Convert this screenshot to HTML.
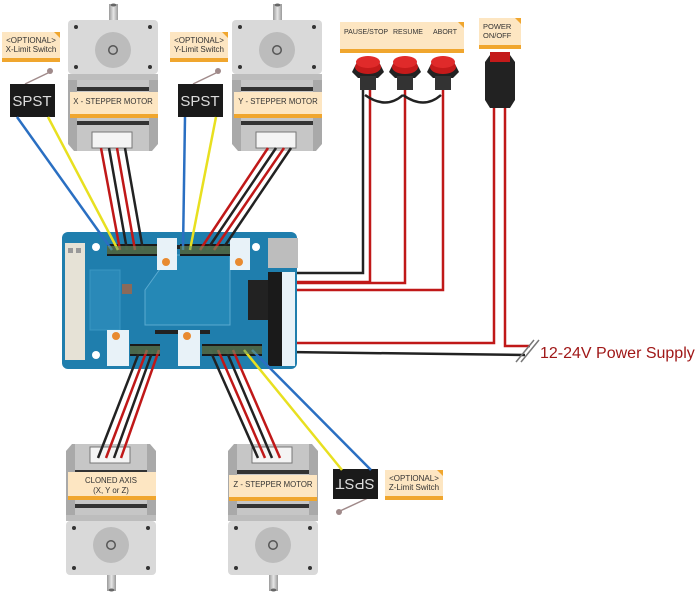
<!DOCTYPE html>
<html><head><meta charset="utf-8"><style>
html,body{margin:0;padding:0;background:#fff;}
svg{display:block;font-family:"Liberation Sans",sans-serif;}
</style></head><body>
<svg width="700" height="596" viewBox="0 0 700 596" xmlns="http://www.w3.org/2000/svg">
<defs>
<linearGradient id="sh" x1="0" x2="1"><stop offset="0" stop-color="#9a9a9a"/><stop offset="0.5" stop-color="#e6e6e6"/><stop offset="1" stop-color="#9a9a9a"/></linearGradient>
<g id="motor">
  <rect x="41" y="-16" width="9" height="44" fill="url(#sh)"/>
  <ellipse cx="45.5" cy="-15" rx="3" ry="1.5" fill="#666"/>
  <rect x="0" y="0" width="90" height="54" rx="4" fill="#d9d9d9"/>
  <circle cx="45" cy="30" r="18" fill="#bcbcbc"/>
  <circle cx="45" cy="30" r="5" fill="#555"/><circle cx="45" cy="30" r="3.5" fill="#bbb"/>
  <circle cx="8" cy="7" r="2" fill="#333"/><circle cx="82" cy="7" r="2" fill="#333"/>
  <circle cx="8" cy="47" r="2" fill="#333"/><circle cx="82" cy="47" r="2" fill="#333"/>
  <polygon points="0,54 90,54 90,124 84,131 6,131 0,124" fill="#a9a9a9"/>
  <rect x="9" y="54" width="72" height="77" fill="#c6c6c6"/>
  <rect x="0" y="54" width="90" height="6" fill="#bdbdbd"/>
  <rect x="9" y="67" width="72" height="4" fill="#333"/>
  <rect x="9" y="101" width="72" height="4" fill="#333"/>
  <rect x="24" y="112" width="40" height="16" fill="#f4f4f4" stroke="#777"/>
</g>
<g id="lbl"><rect x="0" y="0" width="58" height="30" fill="#fde6c2"/><rect x="0" y="26" width="58" height="4" fill="#f0a62e"/><polygon points="52,0 58,0 58,6" fill="#f0a62e"/></g>
</defs>

<use href="#motor" x="68" y="20"/>
<use href="#motor" x="232" y="20"/>
<use href="#motor" transform="translate(66,575) scale(1,-1)"/>
<use href="#motor" transform="translate(228,575) scale(1,-1)"/>

<g font-size="7.8" fill="#333" text-anchor="middle">
<rect x="70" y="92" width="88" height="26" fill="#fde6c2"/><rect x="70" y="114" width="88" height="4" fill="#f0a62e"/>
<text x="113" y="104">X - STEPPER MOTOR</text>
<rect x="234" y="92" width="88" height="26" fill="#fde6c2"/><rect x="234" y="114" width="88" height="4" fill="#f0a62e"/>
<text x="278" y="104">Y - STEPPER MOTOR</text>
<rect x="68" y="472" width="88" height="28" fill="#fde6c2"/><rect x="68" y="496" width="88" height="4" fill="#f0a62e"/>
<text x="111" y="483">CLONED AXIS</text><text x="111" y="493">(X, Y or Z)</text>
<rect x="229" y="475" width="88" height="26" fill="#fde6c2"/><rect x="229" y="497" width="88" height="4" fill="#f0a62e"/>
<text x="273" y="487">Z - STEPPER MOTOR</text>
</g>

<use href="#lbl" x="2" y="32"/><use href="#lbl" x="170" y="32"/><use href="#lbl" x="385" y="470"/>
<g font-size="8" fill="#333" text-anchor="middle">
<text x="31" y="43">&lt;OPTIONAL&gt;</text><text x="31" y="52">X-Limit Switch</text>
<text x="199" y="43">&lt;OPTIONAL&gt;</text><text x="199" y="52">Y-Limit Switch</text>
<text x="414" y="481">&lt;OPTIONAL&gt;</text><text x="414" y="490">Z-Limit Switch</text>
</g>

<line x1="25" y1="84" x2="50" y2="72" stroke="#a08a8a" stroke-width="1.5"/><circle cx="50" cy="71" r="3" fill="#a08a8a"/>
<rect x="10" y="84" width="45" height="33" fill="#1a1a1a"/><text x="32" y="106" font-size="15" fill="#ddd" text-anchor="middle">SPST</text>
<line x1="193" y1="84" x2="218" y2="72" stroke="#a08a8a" stroke-width="1.5"/><circle cx="218" cy="71" r="3" fill="#a08a8a"/>
<rect x="178" y="84" width="45" height="33" fill="#1a1a1a"/><text x="200" y="106" font-size="15" fill="#ddd" text-anchor="middle">SPST</text>
<line x1="368" y1="498" x2="340" y2="511" stroke="#a08a8a" stroke-width="1.5"/><circle cx="339" cy="512" r="3" fill="#a08a8a"/>
<rect x="333" y="469" width="45" height="30" fill="#1a1a1a"/><text x="355" y="484" font-size="15" fill="#ddd" text-anchor="middle" transform="rotate(180 355 484)" dy="5">SPST</text>

<rect x="340" y="22" width="124" height="31" fill="#fde6c2"/><rect x="340" y="49" width="124" height="4" fill="#f0a62e"/><polygon points="458,22 464,22 464,28" fill="#f0a62e"/>
<g font-size="7" fill="#333"><text x="344" y="34">PAUSE/STOP</text><text x="393" y="34">RESUME</text><text x="433" y="34">ABORT</text></g>
<rect x="479" y="18" width="42" height="31" fill="#fde6c2"/><rect x="479" y="45" width="42" height="4" fill="#f0a62e"/><polygon points="515,18 521,18 521,24" fill="#f0a62e"/>
<g font-size="7.5" fill="#333"><text x="483" y="29">POWER</text><text x="483" y="38">ON/OFF</text></g>

<g transform="translate(368,0)"><polygon points="-16,72 -10,60 10,60 16,72 10,78 -10,78" fill="#222"/><rect x="-8" y="76" width="16" height="14" fill="#333"/><ellipse cx="0" cy="67" rx="13" ry="7" fill="#c41a1a"/><ellipse cx="0" cy="62" rx="12" ry="6" fill="#e02a2a"/></g>
<g transform="translate(405,0)"><polygon points="-16,72 -10,60 10,60 16,72 10,78 -10,78" fill="#222"/><rect x="-8" y="76" width="16" height="14" fill="#333"/><ellipse cx="0" cy="67" rx="13" ry="7" fill="#c41a1a"/><ellipse cx="0" cy="62" rx="12" ry="6" fill="#e02a2a"/></g>
<g transform="translate(443,0)"><polygon points="-16,72 -10,60 10,60 16,72 10,78 -10,78" fill="#222"/><rect x="-8" y="76" width="16" height="14" fill="#333"/><ellipse cx="0" cy="67" rx="13" ry="7" fill="#c41a1a"/><ellipse cx="0" cy="62" rx="12" ry="6" fill="#e02a2a"/></g>
<polygon points="485,62 490,55 510,55 515,62 515,100 510,108 490,108 485,100" fill="#222"/>
<rect x="490" y="52" width="20" height="10" fill="#c41a1a"/>

<g fill="none" stroke-width="2.5">
<path d="M405,90 V283 H287" stroke="#c01818"/>
<path d="M443,90 V290 H287" stroke="#c01818"/>
<path d="M370,90 V282 H287" stroke="#c01818"/>
<path d="M363,90 V273 H287" stroke="#222"/>
<path d="M365,95 Q386,110 403,95" stroke="#222"/>
<path d="M403,95 Q424,110 441,95" stroke="#222"/>
<path d="M494,108 V343 H287" stroke="#c01818"/>
<path d="M505,108 V346 H530" stroke="#c01818"/>
<path d="M287,352 L525,355" stroke="#222"/>
</g>
<line x1="516" y1="362" x2="534" y2="340" stroke="#777" stroke-width="1.5"/>
<line x1="521" y1="362" x2="539" y2="340" stroke="#777" stroke-width="1.5"/>
<text x="540" y="358" font-size="16" fill="#a01818">12-24V Power Supply</text>

<rect x="62" y="232" width="235" height="137" rx="6" fill="#1f7ead"/>
<rect x="65" y="243" width="20" height="117" fill="#e6e2d6"/>
<g fill="#999"><rect x="68" y="248" width="5" height="5"/><rect x="76" y="248" width="5" height="5"/></g>
<rect x="90" y="270" width="30" height="60" fill="#2a89b8" stroke="#3a96c2"/>
<rect x="268" y="238" width="30" height="30" fill="#bdbdbd"/>
<rect x="248" y="280" width="22" height="40" fill="#222"/>
<polygon points="170,255 230,255 230,325 145,325 145,290" fill="#2588b6" stroke="#5aaad0"/>
<rect x="155" y="245" width="55" height="4" fill="#222"/>
<rect x="155" y="330" width="55" height="4" fill="#222"/>
<rect x="268" y="272" width="14" height="94" fill="#1a1a1a"/>
<rect x="282" y="272" width="13" height="94" fill="#e8f2f8"/>
<rect x="107" y="244" width="50" height="12" fill="#1a1a1a"/>
<rect x="180" y="244" width="50" height="12" fill="#1a1a1a"/>
<rect x="130" y="344" width="30" height="12" fill="#1a1a1a"/>
<rect x="202" y="344" width="60" height="12" fill="#1a1a1a"/>
<rect x="157" y="238" width="20" height="32" fill="#e8f2f8"/><circle cx="166" cy="262" r="4" fill="#e88a30"/>
<rect x="230" y="238" width="20" height="32" fill="#e8f2f8"/><circle cx="239" cy="262" r="4" fill="#e88a30"/>
<rect x="107" y="330" width="22" height="36" fill="#e8f2f8"/><circle cx="116" cy="336" r="4" fill="#e88a30"/>
<rect x="178" y="330" width="22" height="36" fill="#e8f2f8"/><circle cx="187" cy="336" r="4" fill="#e88a30"/>
<circle cx="96" cy="247" r="4" fill="#fff"/><circle cx="256" cy="247" r="4" fill="#fff"/>
<circle cx="96" cy="355" r="4" fill="#fff"/>
<rect x="122" y="284" width="10" height="10" fill="#8a6a5a"/>

<g fill="none" stroke-width="2.5">
<path d="M101,148 L120,250" stroke="#c01818"/>
<path d="M109,148 L127,250" stroke="#222"/>
<path d="M117,148 L135,250" stroke="#c01818"/>
<path d="M125,148 L143,250" stroke="#222"/>
<path d="M268,148 L200,250" stroke="#c01818"/>
<path d="M276,148 L207,250" stroke="#222"/>
<path d="M284,148 L214,250" stroke="#c01818"/>
<path d="M291,148 L222,250" stroke="#222"/>
<path d="M140,350 L98,458" stroke="#222"/>
<path d="M147,350 L106,458" stroke="#c01818"/>
<path d="M153,350 L114,458" stroke="#222"/>
<path d="M159,350 L121,458" stroke="#c01818"/>
<path d="M210,350 L258,458" stroke="#222"/>
<path d="M218,350 L265,458" stroke="#c01818"/>
<path d="M226,350 L272,458" stroke="#222"/>
<path d="M233,350 L280,458" stroke="#c01818"/>
<path d="M17,117 L112,250" stroke="#2a6fc2"/>
<path d="M48,117 L118,250" stroke="#e8e020"/>
<path d="M185,117 L183,250" stroke="#2a6fc2"/>
<path d="M216,117 L190,250" stroke="#e8e020"/>
<path d="M244,350 L342,470" stroke="#e8e020"/>
<path d="M252,350 L371,470" stroke="#2a6fc2"/>
</g>
<rect x="107" y="246" width="50" height="8" fill="#6a9a6a" opacity="0.6"/>
<rect x="180" y="246" width="50" height="8" fill="#6a9a6a" opacity="0.6"/>
<rect x="130" y="346" width="30" height="8" fill="#6a9a6a" opacity="0.6"/>
<rect x="202" y="346" width="60" height="8" fill="#6a9a6a" opacity="0.6"/>
</svg>
</body></html>
